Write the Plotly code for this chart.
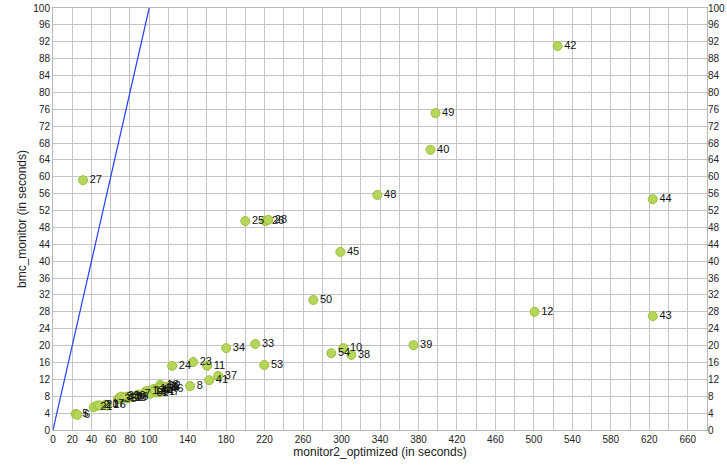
import plotly.graph_objects as go

# Data: (monitor2_optimized, bmc_monitor) in seconds, with point ids
ids = [42, 49, 40, 27, 48, 44, 25, 26, 28, 45, 50, 12, 43, 33, 39, 34, 10, 54, 38,
       23, 53, 24, 11, 37, 41, 8,
       5, 6, 21, 2, 20, 17, 16, 35, 3, 31, 30, 36, 29,
       7, 13, 14, 52, 15, 51,
       18, 32, 9, 46, 47, 1, 4, 19, 22]
x_opt = [524.7, 397.7, 392.5, 31.2, 337.3, 623.6, 199.9, 220.7, 223.8, 298.8, 270.7, 500.7, 623.6,
         210.3, 374.8, 180.1, 301.9, 289.4, 310.2,
         145.7, 219.7, 123.9, 160.3, 171.8, 162.4, 142.6,
         23.6, 25.4, 42.3, 46.0, 48.5, 54.7, 56.1, 67.5, 69.2, 70.9, 76.8, 79.6, 78.0,
         88.2, 96.2, 98.6, 101.0, 104.5, 107.3,
         111.4, 113.0, 114.2, 115.9, 112.0, 117.5, 106.0, 110.0, 74.0]
y_bmc = [91.0, 75.1, 66.4, 59.2, 55.7, 54.7, 49.5, 49.5, 49.8, 42.2, 30.8, 28.0, 27.0,
         20.4, 20.1, 19.4, 19.4, 18.2, 17.8,
         16.1, 15.4, 15.2, 15.2, 12.8, 11.8, 10.4,
         3.8, 3.6, 5.4, 5.8, 5.8, 6.0, 5.8, 7.3, 7.7, 7.9, 7.9, 7.7, 7.5,
         8.4, 9.1, 9.3, 8.6, 9.7, 8.9,
         10.7, 10.3, 10.1, 9.7, 9.0, 10.2, 9.4, 9.9, 7.6]
labels = [str(i) for i in ids]

# Reference line y = x
ref_x = [0, 100]
ref_y = [0, 100]

x_tick_vals = [0, 20, 40, 60, 80, 100] + list(range(140, 661, 40))
y_tick_vals = list(range(0, 101, 4))

font = "Liberation Sans, Arial, sans-serif"

fig = go.Figure()
fig.add_trace(go.Scatter(x=ref_x, y=ref_y, mode="lines",
                         line=dict(color="#2140ff", width=1.2),
                         hoverinfo="skip", showlegend=False))
fig.add_trace(go.Scatter(x=x_opt, y=y_bmc, mode="markers+text", text=labels,
                         textposition="middle right",
                         textfont=dict(size=11, color="#111111", family=font),
                         marker=dict(size=9, color="#b6d65a",
                                     line=dict(color="#9cbd3e", width=1)),
                         showlegend=False))
# invisible trace for right axis
fig.add_trace(go.Scatter(x=[0], y=[0], yaxis="y2", mode="markers",
                         marker=dict(opacity=0), hoverinfo="skip", showlegend=False))

grid = "#c4c4c4"
fig.update_layout(
    width=727, height=467,
    margin=dict(l=53, r=20, t=8, b=37),
    paper_bgcolor="white", plot_bgcolor="white",
    font=dict(family=font, size=10, color="#222222"),
    xaxis=dict(range=[0, 680], tickvals=x_tick_vals, showgrid=True, gridcolor=grid,
               gridwidth=1, zeroline=False, showline=True, linecolor="#b8b8b8",
               mirror=True, ticks="", ticklen=0, automargin=False,
               minor=dict(dtick=20, tick0=0, showgrid=True, gridcolor=grid, gridwidth=1),
               title=dict(text="monitor2_optimized (in seconds)", font=dict(size=12),
                          standoff=2),
               tickfont=dict(size=10)),
    yaxis=dict(range=[0, 100], tickvals=y_tick_vals, showgrid=True, gridcolor=grid,
               gridwidth=1, zeroline=False, showline=True, linecolor="#b8b8b8",
               mirror=True, ticks="", automargin=False,
               title=dict(text="bmc_monitor (in seconds)", font=dict(size=12),
                          standoff=4),
               tickfont=dict(size=10)),
    yaxis2=dict(range=[0, 100], tickvals=y_tick_vals, overlaying="y", side="right",
                showgrid=False, zeroline=False, showline=False, ticks="",
                automargin=False, tickfont=dict(size=10)),
)

fig.write_html("out.html", config={"displayModeBar": False},
               post_script="document.body.style.margin='0';")
